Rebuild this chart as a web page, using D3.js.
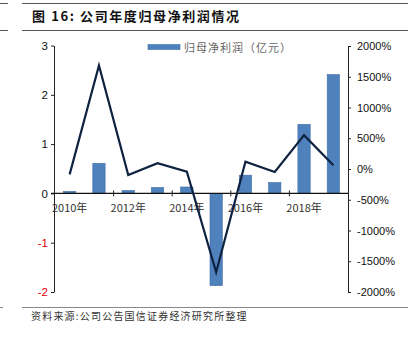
<!DOCTYPE html>
<html><head><meta charset="utf-8">
<script src="https://cdn.jsdelivr.net/npm/d3@7"></script>
<style>body{margin:0;background:#fff}svg{display:block}</style>
</head><body>
<script>
const years = ["2010","2011","2012","2013","2014","2015","2016","2017","2018","2019"];
const profit = [0.04,0.61,0.06,0.12,0.13,-1.87,0.37,0.22,1.40,2.41];
const growth = [-87,1683,-98,93,-44,-1678,119,-49,551,60];
const leftTicks = [-2,-1,0,1,2,3];
const rightTicks = [-2000,-1500,-1000,-500,0,500,1000,1500,2000];
const xLabels = ["2010","2012","2014","2016","2018"];
const titleText = "图 16: 公司年度归母净利润情况";
const legendText = "归母净利润（亿元）";
const sourceText = "资料来源:公司公告国信证券经济研究所整理";

const W=415,H=340;
const svg=d3.select("body").append("svg").attr("width",W).attr("height",H);
const cjk="'Noto Sans CJK SC','Noto Sans',sans-serif";
const lat="'Liberation Sans',Arial,sans-serif";

// header rules
svg.append("line").attr("x1",0).attr("x2",8).attr("y1",3.5).attr("y2",3.5).attr("stroke","#555");
svg.append("line").attr("x1",22).attr("x2",408).attr("y1",3.5).attr("y2",3.5).attr("stroke","#555");
svg.append("line").attr("x1",0).attr("x2",8).attr("y1",30.5).attr("y2",30.5).attr("stroke","#555");
svg.append("line").attr("x1",22).attr("x2",408).attr("y1",30.5).attr("y2",30.5).attr("stroke","#555");
svg.append("text").attr("x",32).attr("y",21).attr("font-family",cjk).attr("font-weight","bold")
  .attr("font-size",13).attr("letter-spacing",1.6).attr("fill","#111").text(titleText);

// footer
svg.append("line").attr("x1",0).attr("x2",3).attr("y1",307.5).attr("y2",307.5).attr("stroke","#888");
svg.append("line").attr("x1",22).attr("x2",408).attr("y1",307.5).attr("y2",307.5).attr("stroke","#888").attr("stroke-width",1.2);
svg.append("text").attr("x",31).attr("y",320).attr("font-family",cjk).attr("font-size",10)
  .attr("letter-spacing",1.2).attr("fill","#333").text(sourceText);

const x=d3.scaleBand().domain(years).range([55,348]).paddingInner(0.58).paddingOuter(0.29);
const xc=d3.scaleBand().domain(years).range([55,348]);
const yL=d3.scaleLinear().domain([-2,3]).range([292,45.5]);
const yR=d3.scaleLinear().domain([-2000,2000]).range([292,46]);

// bars
svg.append("g").selectAll("rect").data(years).join("rect")
  .attr("x",d=>x(d)).attr("width",x.bandwidth())
  .attr("y",(d,i)=>yL(Math.max(0,profit[i])))
  .attr("height",(d,i)=>Math.abs(yL(profit[i])-yL(0)))
  .attr("fill","#4f81bd").attr("stroke","#3d6da8").attr("stroke-width",0.6);

// left axis
const la=svg.append("g").attr("transform","translate(54,0)")
  .call(d3.axisLeft(yL).tickValues(leftTicks).tickSize(3).tickSizeOuter(0).tickFormat(d=>String(d)));
la.select(".domain").attr("stroke","#222");
la.selectAll("line").attr("stroke","#222");
la.selectAll("text").attr("font-family",lat).attr("font-size",11.5)
  .attr("fill",d=>d<0?"#e00000":"#111").attr("x",-6);

// right axis
const ra=svg.append("g").attr("transform","translate(348,0)")
  .call(d3.axisRight(yR).tickValues(rightTicks).tickSize(3).tickSizeOuter(0).tickFormat(d=>String(d)+"%"));
ra.select(".domain").attr("stroke","#222");
ra.selectAll("line").attr("stroke","#222");
ra.selectAll("text").attr("font-family",lat).attr("font-size",11).attr("fill","#111").attr("x",9);

// x axis at zero
const xa=svg.append("g").attr("transform",`translate(0,${yL(0)})`);
xa.append("line").attr("x1",51).attr("x2",348).attr("stroke","#111").attr("stroke-width",1.2);
xa.selectAll("line.t").data(xLabels.slice(1)).join("line").attr("class","t")
  .attr("x1",d=>xc(d)).attr("x2",d=>xc(d)).attr("y1",-3).attr("y2",3).attr("stroke","#222");
xa.selectAll("text").data(xLabels).join("text")
  .attr("x",d=>xc(d)+xc.bandwidth()/2).attr("y",19).attr("text-anchor","middle")
  .attr("font-family",cjk).attr("font-size",11).attr("fill","#333").text(d=>d+"年");

// line
const line=d3.line().x((d,i)=>xc(years[i])+xc.bandwidth()/2).y(d=>yR(d));
svg.append("path").datum(growth).attr("d",line).attr("fill","none")
  .attr("stroke","#0e2240").attr("stroke-width",2.2).attr("stroke-linejoin","miter");

// legend
svg.append("rect").attr("x",148).attr("y",44.5).attr("width",32).attr("height",5)
  .attr("fill","#4f81bd").attr("stroke","#3d6da8").attr("stroke-width",0.6);
svg.append("text").attr("x",184).attr("y",51.5).attr("font-family",cjk).attr("font-size",11)
  .attr("letter-spacing",1).attr("fill","#666").text(legendText);
</script>
</body></html>
